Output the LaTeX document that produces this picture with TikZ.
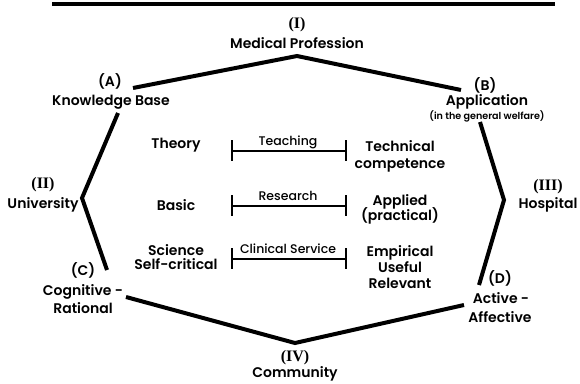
\documentclass[tikz,border=0pt]{standalone}
\usepackage{fontspec}
\newfontfamily\futb{Poppins SemiBold}
\newfontfamily\futr{Poppins Medium}
\newfontfamily\serb{Liberation Serif}[UprightFont=* Bold]
\tikzset{
  lab/.style={font={\futb\fontsize{14}{16}\selectfont}, inner sep=0pt, anchor=base},
  small/.style={font={\futb\fontsize{9.6}{11}\selectfont}, inner sep=0pt, anchor=base},
  rom/.style={font={\serb\fontsize{16}{18}\selectfont}, inner sep=0pt, anchor=base},
  barlab/.style={font={\futr\fontsize{12.5}{14}\selectfont}, inner sep=0pt, anchor=base},
  edge/.style={line width=4pt, line join=miter, line cap=butt},
  barline/.style={line width=2.8pt},
  tick/.style={line width=2pt},
}
\begin{document}
\begin{tikzpicture}[x=1pt,y=-1pt]
\useasboundingbox (0,0) rectangle (580,383);
% top rule
\coordinate (r1) at (52,4); \coordinate (r2) at (555,4);
\draw[line width=4.5pt] (r1) -- (r2);
% octagon vertices
\coordinate (a1) at (133,88);
\coordinate (top) at (297,56);
\coordinate (b1) at (461,90);
\coordinate (b2) at (480,122);
\coordinate (rv) at (504,200);
\coordinate (b3) at (479,285);
\coordinate (d1) at (464,305);
\coordinate (bot) at (295,343);
\coordinate (c1) at (126,297);
\coordinate (l3) at (107,270);
\coordinate (lv) at (82,198);
\coordinate (l1) at (118,113);
\draw[edge] (a1) -- (top) -- (b1);
\draw[edge] (b2) -- (rv) -- (b3);
\draw[edge] (d1) -- (bot) -- (c1);
\draw[edge] (l3) -- (lv) -- (l1);
% corner labels
\node[rom] (nI) at (297,28) {(I)};
\node[lab] (medprof) at (297,48) {Medical Profession};
\node[lab] (nA) at (110,86) {(A)};
\node[lab] (kb) at (111,105) {Knowledge Base};
\node[lab] (nB) at (485,90) {(B)};
\node[lab] (app) at (487,105) {Application};
\node[small] (welf) at (487,119) {(in the general welfare)};
\node[rom] (nII) at (43,188) {(II)};
\node[lab] (univ) at (43,208) {University};
\node[rom] (nIII) at (548,190) {(III)};
\node[lab] (hosp) at (548,208) {Hospital};
\node[lab] (nC) at (83,275) {(C)};
\node[lab] (cog) at (83,295) {Cognitive -};
\node[lab] (rat) at (83,313) {Rational};
\node[lab] (nD) at (500,283) {(D)};
\node[lab] (act) at (501,303) {Active -};
\node[lab] (aff) at (500,322) {Affective};
\node[rom] (nIV) at (295,361) {(IV)};
\node[lab] (comm) at (295,377.5) {Community};
% left column
\node[lab] (theory) at (176,148) {Theory};
\node[lab] (basic) at (176,210) {Basic};
\node[lab] (sci) at (176,255) {Science};
\node[lab] (selfc) at (176,269) {Self-critical};
% right column
\node[lab] (tech) at (400,151) {Technical};
\node[lab] (comp) at (400,168) {competence};
\node[lab] (appl) at (400,205) {Applied};
\node[lab] (pract) at (400,220) {(practical)};
\node[lab] (emp) at (400,256) {Empirical};
\node[lab] (use) at (400,272) {Useful};
\node[lab] (rel) at (400,288) {Relevant};
% bars
\foreach \nm/\y/\txt in {teach/151/Teaching, res/206/Research, clin/259/Clinical Service}{
  \coordinate (\nm L) at (232,\y);
  \coordinate (\nm R) at (346,\y);
  \coordinate (\nm Lt) at (232,\y-11);
  \coordinate (\nm Lb) at (232,\y+10);
  \coordinate (\nm Rt) at (346,\y-11);
  \coordinate (\nm Rb) at (346,\y+10);
  \draw[barline] (\nm L) -- (\nm R);
  \draw[tick] (\nm Lt) -- (\nm Lb);
  \draw[tick] (\nm Rt) -- (\nm Rb);
  \node[barlab] (\nm lab) at (288,\y-6) {\txt};
}
\end{tikzpicture}
\end{document}
